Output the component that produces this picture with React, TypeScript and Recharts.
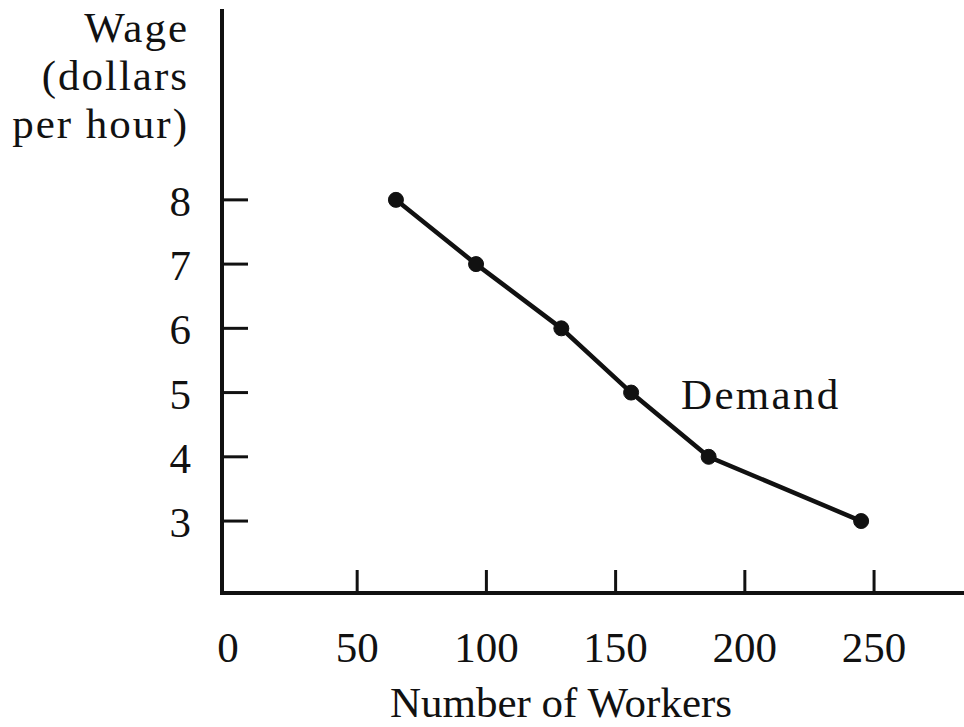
import { LineChart, Line, XAxis, YAxis, LabelList } from 'recharts';

// Demand schedule
const workers = [65, 96, 129, 156, 186, 245];
const wages = [8, 7, 6, 5, 4, 3];
const notes = ['', '', '', 'Demand', '', ''];

const xTicks = [0, 50, 100, 150, 200, 250];
const yTicks = [3, 4, 5, 6, 7, 8];
const yTitle = ['Wage', '(dollars', 'per hour)'];
const xTitle = 'Number of Workers';

const FONT = '"Liberation Serif", "Times New Roman", serif';
const FS = 43;
const INK = '#111';

const data = workers.map((w, i) => ({ workers: w, wage: wages[i], note: notes[i] }));

function XTick({ x, y, payload }: any) {
  return (
    <g>
      {payload.value !== 0 && (
        <line x1={x} y1={y} x2={x} y2={y - 23} stroke={INK} strokeWidth={3} />
      )}
      <text x={x} y={y + 69} textAnchor="middle" fontFamily={FONT} fontSize={FS} fill={INK}>
        {payload.value}
      </text>
    </g>
  );
}

function YTick({ x, y, payload }: any) {
  return (
    <g>
      <line x1={x} y1={y} x2={x + 26} y2={y} stroke={INK} strokeWidth={3} />
      <text x={x - 31} y={y + 16} textAnchor="end" fontFamily={FONT} fontSize={FS} fill={INK}>
        {payload.value}
      </text>
    </g>
  );
}

function YTitle({ viewBox }: any) {
  const right = viewBox.x + viewBox.width - 33;
  return (
    <text textAnchor="end" fontFamily={FONT} fontSize={FS} fill={INK} letterSpacing={2}>
      {yTitle.map((line, i) => (
        <tspan key={line} x={right} y={viewBox.y + 31 + i * 48}>
          {line}
        </tspan>
      ))}
    </text>
  );
}

function XTitle({ viewBox }: any) {
  // sits right against the bottom edge in the original; kept just inside
  return (
    <text
      x={viewBox.x + viewBox.width / 2 - 32}
      y={viewBox.y + 124}
      textAnchor="middle"
      fontFamily={FONT}
      fontSize={FS}
      fill={INK}
    >
      {xTitle}
    </text>
  );
}

function NoteLabel(props: any) {
  if (!props.value) return null;
  const px = props.x ?? props.viewBox?.x;
  const py = props.y ?? props.viewBox?.y;
  return (
    <text x={px + 50} y={py + 16} fontFamily={FONT} fontSize={FS} fill={INK} letterSpacing={2.3}>
      {props.value}
    </text>
  );
}

export default function App() {
  return (
    <div style={{ position: 'absolute', left: 0, top: 0, background: '#fff' }}>
      <LineChart width={964} height={727} data={data} margin={{ top: 11, right: 0, left: 0, bottom: 0 }}>
        <XAxis
          type="number"
          dataKey="workers"
          domain={[-2.3, 284.8]}
          ticks={xTicks}
          allowDataOverflow
          height={134}
          tickSize={0}
          tickMargin={0}
          tickLine={false}
          tick={<XTick />}
          axisLine={{ stroke: INK, strokeWidth: 4, strokeLinecap: 'square' }}
          label={<XTitle />}
        />
        <YAxis
          type="number"
          dataKey="wage"
          domain={[1.88, 10.94]}
          ticks={yTicks}
          allowDataOverflow
          width={222}
          tickSize={0}
          tickMargin={0}
          tickLine={false}
          tick={<YTick />}
          axisLine={{ stroke: INK, strokeWidth: 4, strokeLinecap: 'square' }}
          label={<YTitle />}
        />
        <Line
          type="linear"
          dataKey="wage"
          stroke={INK}
          strokeWidth={4.5}
          dot={{ r: 7.5, fill: INK, stroke: INK, strokeWidth: 1 }}
          activeDot={false}
          isAnimationActive={false}
        >
          <LabelList dataKey="note" content={<NoteLabel />} />
        </Line>
      </LineChart>
    </div>
  );
}
